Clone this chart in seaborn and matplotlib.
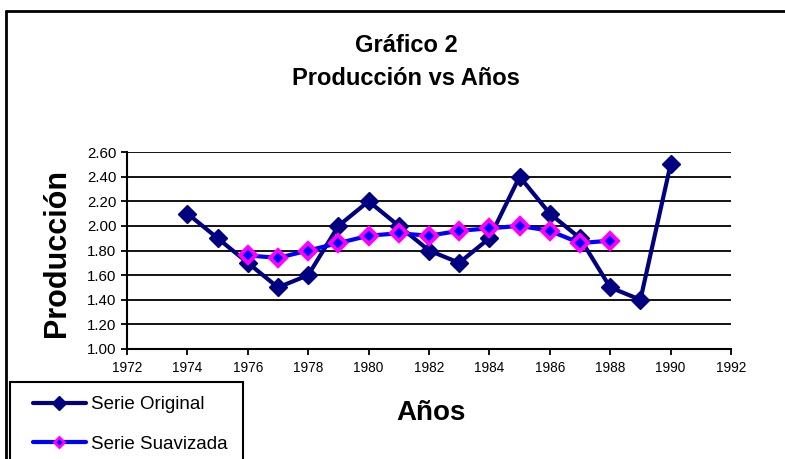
import matplotlib
matplotlib.use("Agg")
import matplotlib.pyplot as plt
from matplotlib.lines import Line2D
from matplotlib.patches import Rectangle
import seaborn as sns
import pandas as pd

# Annual production, original series
years = [1974, 1975, 1976, 1977, 1978, 1979, 1980, 1981, 1982,
         1983, 1984, 1985, 1986, 1987, 1988, 1989, 1990]
original = [2.10, 1.90, 1.70, 1.50, 1.60, 2.00, 2.20, 2.00, 1.80,
            1.70, 1.90, 2.40, 2.10, 1.90, 1.50, 1.40, 2.50]

# Smoothed series (moving average), defined for the central years
smooth_years = [1976, 1977, 1978, 1979, 1980, 1981, 1982,
                1983, 1984, 1985, 1986, 1987, 1988]
smoothed = [1.76, 1.74, 1.80, 1.86, 1.92, 1.94, 1.92,
            1.96, 1.98, 2.00, 1.96, 1.86, 1.88]

x_ticks = list(range(1972, 1993, 2))
y_ticks = [1.00, 1.20, 1.40, 1.60, 1.80, 2.00, 2.20, 2.40, 2.60]

sns.set_theme(style="white")
plt.rcParams["font.family"] = ["Liberation Sans", "DejaVu Sans"]
plt.rcParams["text.color"] = "black"
plt.rcParams["axes.labelcolor"] = "black"
plt.rcParams["xtick.color"] = "black"
plt.rcParams["ytick.color"] = "black"

W, H = 785, 459
fig = plt.figure(figsize=(W / 100, H / 100), dpi=100)
fig.patch.set_facecolor("white")

ax = fig.add_axes([127 / W, 1 - 349 / H, (731 - 127) / W, (349 - 152) / H])
ax.set_facecolor("white")

df_orig = pd.DataFrame({"Año": years, "Producción": original})
df_smooth = pd.DataFrame({"Año": smooth_years, "Producción": smoothed})

navy = "#000080"
blue = "#0000FF"
magenta = "#FF00FF"

sns.lineplot(data=df_orig, x="Año", y="Producción", ax=ax, color=navy,
             linewidth=3, marker="D", markersize=9.5, markerfacecolor=navy,
             markeredgecolor=navy, markeredgewidth=1, zorder=3)
sns.lineplot(data=df_smooth, x="Año", y="Producción", ax=ax, color=blue,
             linewidth=3, marker="D", markersize=8.3, markerfacecolor=blue,
             markeredgecolor=magenta, markeredgewidth=2.8, zorder=4)

ax.set_xlim(1972, 1992)
ax.set_ylim(1.0, 2.6)
ax.set_xticks(x_ticks)
ax.set_xticklabels([str(t) for t in x_ticks], fontsize=9.8)
ax.set_yticks(y_ticks)
ax.set_yticklabels([f"{t:.2f}" for t in y_ticks], fontsize=10.8)
ax.tick_params(axis="both", direction="out", length=4.5, width=1.3,
               color="black", labelcolor="black", bottom=True, left=True)
ax.tick_params(axis="x", pad=4)
ax.tick_params(axis="y", pad=3)

ax.yaxis.grid(True, color="black", linewidth=1.3)
ax.xaxis.grid(False)
ax.set_axisbelow(True)
for side in ("top", "right"):
    ax.spines[side].set_visible(False)
for side in ("left", "bottom"):
    ax.spines[side].set_visible(True)
    ax.spines[side].set_color("black")
    ax.spines[side].set_linewidth(1.5)

ax.set_xlabel("")
ax.set_ylabel("")

# Titles and axis labels
fig.text(406 / W, 1 - 46 / H, "Gráfico 2", ha="center", va="center",
         fontsize=17, fontweight="bold", color="black")
fig.text(406 / W, 1 - 78 / H, "Producción vs Años", ha="center", va="center",
         fontsize=17, fontweight="bold", color="black")
fig.text(431 / W, 1 - 413 / H, "Años", ha="center", va="center",
         fontsize=20, fontweight="bold", color="black")
fig.text(57 / W, 1 - 253 / H, "Producción", ha="center", va="center",
         rotation=90, fontsize=22, fontweight="bold", color="black")

# Outer chart border (open to the right and bottom)
fig.add_artist(Line2D([6 / W, 1.0], [1 - 11 / H, 1 - 11 / H],
                      transform=fig.transFigure, color="black", linewidth=2))
fig.add_artist(Line2D([6 / W, 6 / W], [1 - 11 / H, 0.0],
                      transform=fig.transFigure, color="black", linewidth=2))

# Legend box
fig.add_artist(Rectangle((10 / W, -0.05), (243 - 10) / W, (459 - 382) / H + 0.05,
                         transform=fig.transFigure, fill=False,
                         edgecolor="black", linewidth=1.5))

handles = [
    Line2D([], [], color=navy, linewidth=3, marker="D", markersize=7,
           markerfacecolor=navy, markeredgecolor=navy),
    Line2D([], [], color=blue, linewidth=3, marker="D", markersize=5.5,
           markerfacecolor=blue, markeredgecolor=magenta, markeredgewidth=2),
]
fig.legend(handles, ["Serie Original", "Serie Suavizada"],
           loc="upper left", bbox_to_anchor=(33 / W, 1 - 396 / H),
           frameon=False, fontsize=13.5, handlelength=2.8,
           handletextpad=0.3, labelspacing=1.2, borderpad=0,
           borderaxespad=0)

fig.savefig("out.png", dpi=100)
